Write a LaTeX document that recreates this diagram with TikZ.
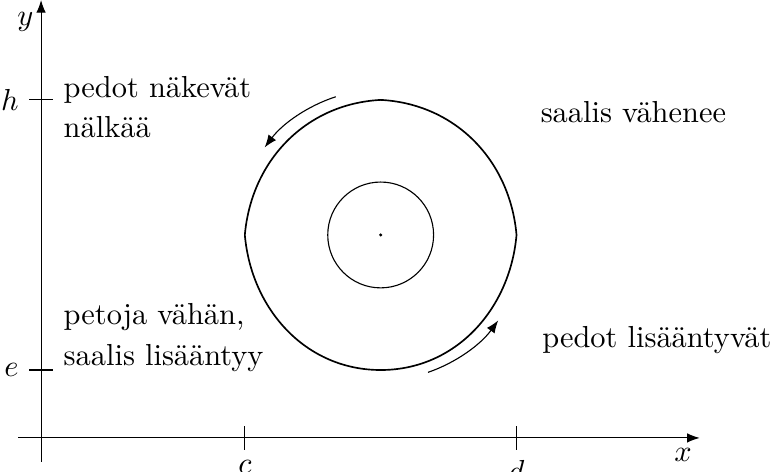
\documentclass[tikz,border=0pt,11pt]{standalone}
\usepackage{tikz}
\usetikzlibrary{positioning,arrows.meta,calc}

\begin{document}
\begin{tikzpicture}[
    axis/.style={-{Latex[length=1.6mm]}},
    orbit/.style={semithick},
    flow/.style={-{Latex[length=1.6mm]}},
    note/.style={anchor=base west, inner sep=0pt, align=left},
]
    \useasboundingbox (-0.52,-0.43) rectangle (9.28,5.545);

    % Axes
    \coordinate (xstart) at (-0.29,0);
    \coordinate (xend) at (8.34,0);
    \coordinate (ystart) at (0,-0.30);
    \coordinate (yend) at (0,5.545);
    \draw[axis] (xstart) -- (xend);
    \draw[axis] (ystart) -- (yend);
    \node (xlab) at (8.13,-0.215) {$x$};
    \node (ylab) at (-0.20,5.27) {$y$};

    % Ticks
    \foreach \name/\x in {c/2.58, d/6.02}
        \draw (\x,0.15) -- (\x,-0.15) node[below] (\name lab) {$\name$};
    \foreach \name/\y in {h/4.28, e/0.86}
        \draw (0.15,\y) -- (-0.15,\y) node[left] (\name lab) {$\name$};

    % Orbit
    \coordinate (M) at (4.30,2.57);
    \coordinate (L) at (2.58,2.57);
    \coordinate (T) at (4.30,4.28);
    \coordinate (R) at (6.02,2.57);
    \coordinate (B) at (4.30,0.86);
    \draw[orbit] (L) to[out=85,in=183] (T) to[out=-3,in=95] (R)
        to[out=-95,in=0] (B) to[out=180,in=-85] (L);
    \draw (M) circle[radius=0.67];
    \fill (M) circle[radius=0.6pt];

    % Direction
    \draw[flow] ($(M)+(108:1.84)$) arc[start angle=108, end angle=143, radius=1.84];
    \draw[flow] ($(M)+(-71:1.84)$) arc[start angle=-71, end angle=-36, radius=1.84];

    % Labels
    \node[note] (hunger) at (0.28,3.80) {pedot näkevät\\[1pt] nälkää};
    \node[note] (few) at (0.28,0.92) {petoja vähän,\\[1pt] saalis lisääntyy};
    \node[note] (prey) at (6.32,4.0) {saalis vähenee};
    \node[note] (grow) at (6.34,1.14) {pedot lisääntyvät};
\end{tikzpicture}
\end{document}
